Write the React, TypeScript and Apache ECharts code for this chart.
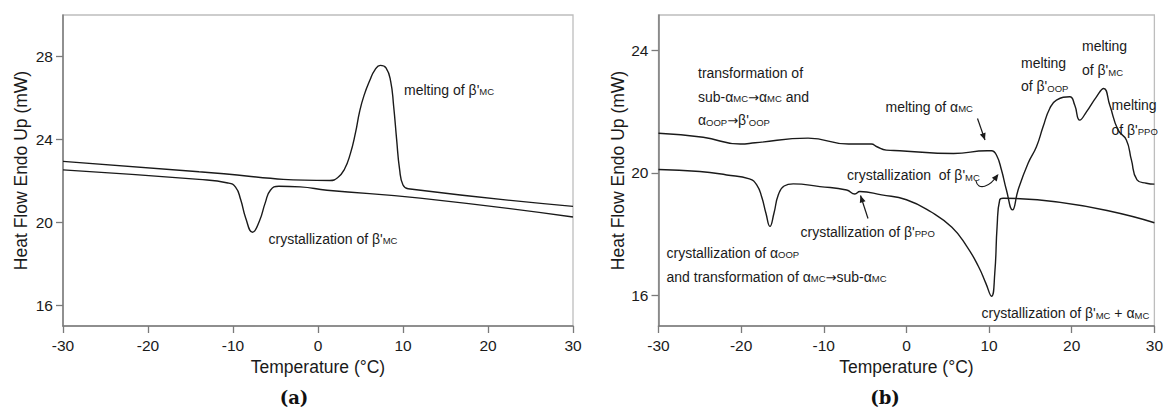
import React, { useEffect, useRef } from "react";
import * as echarts from "echarts";

// ---------- data ----------
const xTicks = [-30, -20, -10, 0, 10, 20, 30];
const yTicksA = [16, 20, 24, 28];
const yTicksB = [16, 20, 24];

// panel (a)
const heatingA: [number, number][] = [
  [-30, 22.94], [-14, 22.44], [1.4, 22.02], [2.3, 22.15], [3.1, 22.55], [3.8, 23.3], [4.4, 24.3],
  [4.9, 25.35], [5.4, 26.1], [6.1, 26.85], [6.7, 27.35], [7.33, 27.57], [8.0, 27.45],
  [8.55, 26.8], [8.9, 25.6], [9.25, 24.0], [9.6, 22.55], [10.0, 21.8], [10.6, 21.62],
  [30, 20.77],
];
const coolingA: [number, number][] = [
  [-30, 22.53], [-14, 22.07], [-10.6, 21.9], [-9.7, 21.7], [-9.1, 21.1], [-8.5, 20.2],
  [-7.7, 19.52], [-6.9, 20.05], [-6.2, 20.95], [-5.6, 21.55], [-4.6, 21.74], [-2.1, 21.71],
  [1.06, 21.55], [12, 21.17], [30, 20.26],
];

// panel (b)
const heatingB: [number, number][] = [
  [-30, 21.29], [-24.6, 21.16], [-20.1, 20.94], [-18.3, 20.98], [-11.9, 21.13], [-7, 20.94],
  [-4.25, 20.94], [-3.57, 20.85], [-2.44, 20.74], [-0.8, 20.72], [5.7, 20.63], [9.76, 20.72],
  [10.3, 20.72], [10.89, 20.58], [11.5, 20.09], [12.1, 19.44], [12.83, 18.79], [13.51, 19.44],
  [14.72, 20.31], [15.73, 20.85], [16.53, 21.5], [17.34, 22.1], [18.15, 22.37], [19.76, 22.48],
  [20.36, 22.21], [20.97, 21.72], [21.78, 21.99], [22.99, 22.48], [23.87, 22.75], [24.6, 22.21],
  [25.6, 21.4], [26.61, 21.07], [27.22, 20.42], [27.9, 19.77], [29.03, 19.66], [30, 19.63],
];
const coolingB: [number, number][] = [
  [-30, 20.11], [-25, 20.04], [-21.75, 19.93], [-19, 19.8], [-18.1, 19.6], [-17.5, 19.2],
  [-17, 18.68], [-16.52, 18.25], [-16.03, 18.68], [-15.5, 19.28], [-14.8, 19.57], [-13.7, 19.64],
  [-10.47, 19.55], [-7.24, 19.44], [-6.24, 19.31], [-5.63, 19.39], [-3, 19.28], [0, 19.12],
  [3, 18.72], [5.5, 18.22], [7.3, 17.6], [8.7, 16.95], [9.6, 16.4], [10.29, 15.97], [10.69, 16.73],
  [10.97, 18.25], [11.29, 19.12], [11.69, 19.17], [30, 18.37],
];

// annotation texts ("_{..}" marks subscript)
const notesA = ["melting of β'_{MC}", "crystallization of β'_{MC}"];
const notesB = [
  "transformation of",
  "sub-α_{MC}→α_{MC} and",
  "α_{OOP}→β'_{OOP}",
  "melting of α_{MC}",
  "melting",
  "of β'_{OOP}",
  "melting",
  "of β'_{MC}",
  "melting",
  "of β'_{PPO}",
  "crystallization  of β'_{MC}",
  "crystallization of β'_{PPO}",
  "crystallization of α_{OOP}",
  "and transformation of α_{MC}→sub-α_{MC}",
  "crystallization of β'_{MC} + α_{MC}",
];
const axisTitleX = "Temperature (°C)";
const axisTitleY = "Heat Flow Endo Up (mW)";
const panelLabels = ["(a)", "(b)"];

// ---------- layout / style ----------
const FONT = "'Liberation Sans', Arial, sans-serif";
const INK = "#1a1a1a";
const AXIS = "#7a7a7a";

const RICH = {
  n: { fontSize: 14, fontFamily: FONT, fill: INK, lineHeight: 18, verticalAlign: "bottom" },
  s: { fontSize: 9.5, fontFamily: FONT, fill: INK, lineHeight: 7, verticalAlign: "bottom" },
  a: { fontSize: 13, fontFamily: "'DejaVu Sans', sans-serif", fill: INK, lineHeight: 17, verticalAlign: "bottom" },
};

function toRich(s: string) {
  return s
    .split(/(_\{[^}]*\}|→)/)
    .filter((p) => p.length > 0)
    .map((p) =>
      p === "→" ? "{a|→}" : p.startsWith("_{") ? `{s|${p.slice(2, -1)}}` : `{n|${p}}`
    )
    .join("");
}

function note(text: string, x: number, y: number) {
  return {
    type: "text",
    x,
    y,
    silent: true,
    style: { text: toRich(text), rich: RICH, align: "left", verticalAlign: "middle" },
  };
}

function arrowHead(x1: number, y1: number, x2: number, y2: number, len = 7, half = 3) {
  const dx = x2 - x1;
  const dy = y2 - y1;
  const d = Math.hypot(dx, dy) || 1;
  const ux = dx / d;
  const uy = dy / d;
  const bx = x2 - ux * len;
  const by = y2 - uy * len;
  return {
    type: "polygon",
    silent: true,
    shape: {
      points: [
        [x2, y2],
        [bx - uy * half, by + ux * half],
        [bx + uy * half, by - ux * half],
      ],
    },
    style: { fill: INK },
  };
}

function straightArrow(x1: number, y1: number, x2: number, y2: number) {
  return [
    {
      type: "line",
      silent: true,
      shape: { x1, y1, x2, y2 },
      style: { stroke: INK, lineWidth: 1.2 },
    },
    arrowHead(x1, y1, x2, y2),
  ];
}

const notePosA: [number, number][] = [
  [404, 87.5],
  [268.5, 236.5],
];
const notePosB: [number, number][] = [
  [698, 70.5],
  [698, 94.5],
  [698, 118],
  [885.5, 104.5],
  [1021, 60.5],
  [1021, 84],
  [1082, 44],
  [1082, 68],
  [1111.5, 102.5],
  [1111.5, 127.5],
  [847, 173],
  [800.5, 229.5],
  [666.5, 250.5],
  [666.5, 274.5],
  [981.5, 311],
];

function axisPair(gridIndex: number, yMax: number, yTicks: number[], yNameGap: number) {
  const labelStyle = { fontSize: 15.5, color: INK, fontFamily: FONT };
  const nameStyle = { fontSize: 17.5, color: INK, fontFamily: FONT };
  const x = {
    type: "value",
    gridIndex,
    min: -30,
    max: 30,
    interval: 10,
    axisLine: { show: true, onZero: false, lineStyle: { color: AXIS, width: 1.5 } },
    axisTick: { show: true, length: 7, lineStyle: { color: AXIS, width: 1.3 } },
    axisLabel: { ...labelStyle, margin: 11 },
    splitLine: { show: false },
    name: axisTitleX,
    nameLocation: "middle",
    nameGap: 32,
    nameTextStyle: nameStyle,
  };
  const y = {
    type: "value",
    gridIndex,
    min: 15,
    max: yMax,
    axisLine: { show: true, onZero: false, lineStyle: { color: AXIS, width: 1.5 } },
    axisTick: { show: true, length: 7, customValues: yTicks, lineStyle: { color: AXIS, width: 1.3 } },
    axisLabel: { ...labelStyle, margin: 10, customValues: yTicks },
    splitLine: { show: false },
    name: axisTitleY,
    nameLocation: "middle",
    nameGap: yNameGap,
    nameRotate: 90,
    nameTextStyle: nameStyle,
  };
  return { x, y };
}

function lineSeries(data: [number, number][], idx: number) {
  return {
    type: "line",
    xAxisIndex: idx,
    yAxisIndex: idx,
    data,
    showSymbol: false,
    smooth: 0.5,
    lineStyle: { color: INK, width: 1.4 },
    silent: true,
  };
}

export default function App() {
  const ref = useRef<HTMLDivElement>(null);

  useEffect(() => {
    document.body.style.margin = "0";
    if (!ref.current) return;
    const chart = echarts.init(ref.current, undefined, { renderer: "svg" });
    const a = axisPair(0, 30, yTicksA, 33);
    const b = axisPair(1, 25.15, yTicksB, 30);

    const graphics: any[] = [];
    notesA.forEach((t, i) => graphics.push(note(t, notePosA[i][0], notePosA[i][1])));
    notesB.forEach((t, i) => graphics.push(note(t, notePosB[i][0], notePosB[i][1])));
    // arrows
    graphics.push(...straightArrow(977.5, 118.5, 985, 140));
    graphics.push(...straightArrow(868, 218.5, 860.5, 195.5));
    graphics.push({
      type: "bezierCurve",
      silent: true,
      shape: { x1: 976, y1: 181, cpx1: 978, cpy1: 191, cpx2: 990, cpy2: 187, x2: 997.5, y2: 175 },
      style: { stroke: INK, lineWidth: 1.2, fill: "none" },
    });
    graphics.push(arrowHead(991, 184, 998.5, 174));
    // panel labels
    const pl = [
      [294, 397],
      [885, 397],
    ];
    panelLabels.forEach((t, i) =>
      graphics.push({
        type: "text",
        x: pl[i][0],
        y: pl[i][1],
        silent: true,
        style: {
          text: t,
          fill: "#111",
          font: "bold 18px 'DejaVu Serif', serif",
          align: "center",
          verticalAlign: "middle",
        },
      })
    );

    chart.setOption({
      animation: false,
      backgroundColor: "#fff",
      grid: [
        { left: 63, right: 593, top: 15, bottom: 82, show: true, borderColor: "#bdbdbd", borderWidth: 1.3 },
        { left: 658.5, right: 11.5, top: 15, bottom: 82, show: true, borderColor: "#bdbdbd", borderWidth: 1.3 },
      ],
      xAxis: [a.x, b.x],
      yAxis: [a.y, b.y],
      series: [
        lineSeries(heatingA, 0),
        lineSeries(coolingA, 0),
        lineSeries(heatingB, 1),
        lineSeries(coolingB, 1),
      ],
      graphic: graphics,
    });
    return () => chart.dispose();
  }, []);

  return (
    <div
      ref={ref}
      style={{ position: "fixed", left: 0, top: 0, width: 1166, height: 408, background: "#fff" }}
    />
  );
}
